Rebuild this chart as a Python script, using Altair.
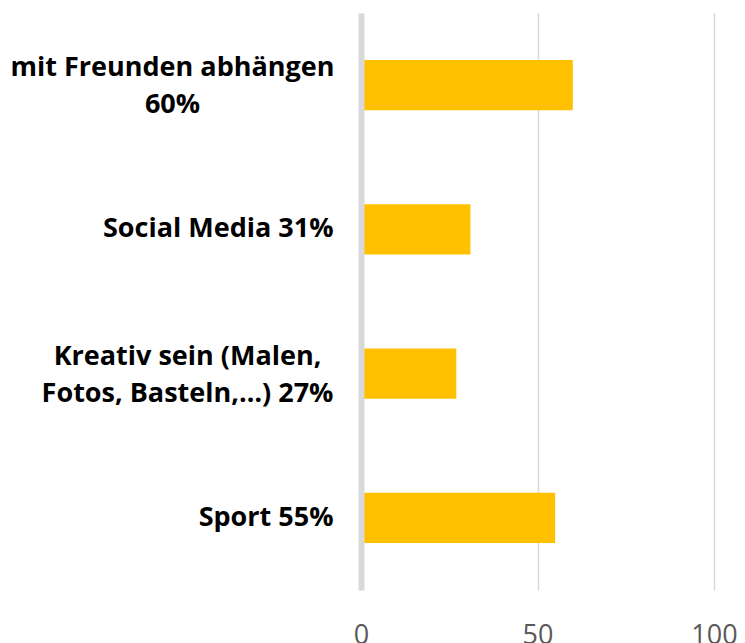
import altair as alt
import pandas as pd

categories = [
    "mit Freunden abhängen\n60%",
    "Social Media 31%",
    "Kreativ sein (Malen,\nFotos, Basteln,…) 27%",
    "Sport 55%",
]
values = [60, 31, 27, 55]
x_ticks = [0, 50, 100]

df = pd.DataFrame({"cat": categories, "val": values})

multi = "indexof(datum.value, '\\n') >= 0"

chart = alt.Chart(df).mark_bar(color="#FFC000").encode(
    x=alt.X("val:Q", scale=alt.Scale(domain=[0, 100], nice=False),
            axis=alt.Axis(values=x_ticks, title=None, domain=False, ticks=False,
                          grid=True, gridColor="#D9D9D9", gridWidth=1.5,
                          labelFont="Open Sans", labelFontSize=27, labelColor="#595959",
                          labelPadding=32, labelFlush=False)),
    y=alt.Y("cat:N", sort=None, scale=alt.Scale(paddingInner=0.653, paddingOuter=0.3265),
            axis=alt.Axis(title=None, ticks=False, domain=True, domainColor="#D9D9D9",
                          domainWidth=6, labelExpr="split(datum.value, '\\n')",
                          labelOffset={"condition": {"test": multi, "value": -17},
                                       "value": 0},
                          labelAlign={"condition": {"test": multi, "value": "center"},
                                      "value": "right"},
                          labelPadding={"condition": [
                              {"test": "indexof(datum.value, 'Freunden') >= 0", "value": 189},
                              {"test": "indexof(datum.value, 'Kreativ') >= 0", "value": 174}],
                              "value": 28},
                          labelFont="Open Sans", labelFontWeight="bold", labelFontSize=27,
                          labelColor="#000000", labelLineHeight=37,
                          labelLimit=400, zindex=1)),
).properties(
    width=353, height=577,
    autosize=alt.AutoSizeParams(type="none"),
    padding={"left": 353, "top": 5, "right": 23, "bottom": 70},
).configure_view(stroke=None)

chart.save("out.html", embed_options={"renderer": "svg", "actions": False})
